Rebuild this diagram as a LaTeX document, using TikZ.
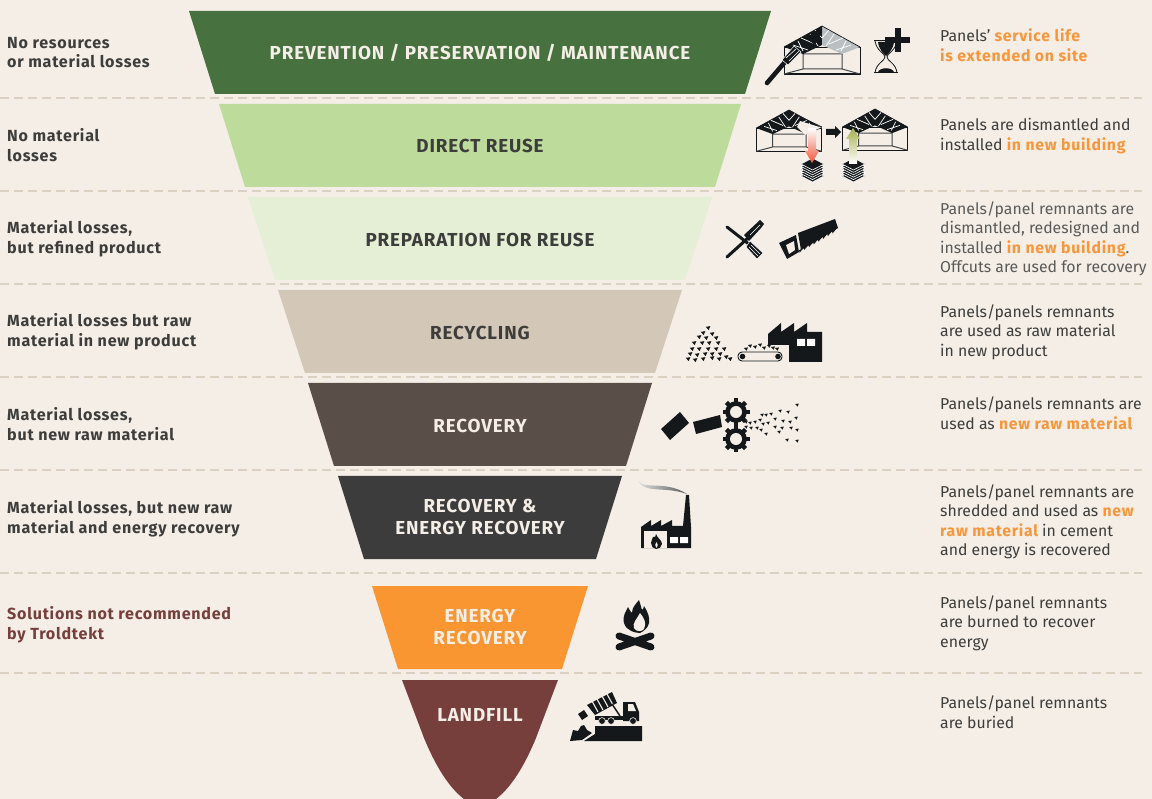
\documentclass[tikz,border=0pt]{standalone}
\usepackage{fontspec}
\setmainfont[BoldFeatures={LetterSpace=4.6}]{Fira Sans}
\definecolor{paper}{HTML}{F4EEE7}
\definecolor{dashline}{HTML}{DBD1C3}
\definecolor{inkdark}{HTML}{3D3D3B}
\definecolor{iconblack}{HTML}{14181A}
\definecolor{accent}{HTML}{F9963A}
\definecolor{wine}{HTML}{763F3C}
\definecolor{stepone}{HTML}{47713F}
\definecolor{steptwo}{HTML}{BDDC9C}
\definecolor{stepthree}{HTML}{E4EFD5}
\definecolor{stepfour}{HTML}{D3C7B8}
\definecolor{stepfive}{HTML}{5A4F48}
\definecolor{stepsix}{HTML}{3C3C3C}
\definecolor{stepseven}{HTML}{FA9632}
\definecolor{roofgrey}{HTML}{BAC0C2}
\definecolor{arrowred}{HTML}{F0553A}
\definecolor{arrowolive}{HTML}{A5B04F}
\usetikzlibrary{positioning}
\tikzset{
	divider/.style={dashline, line width=1.2pt, dash pattern=on 9pt off 5pt},
	steptext/.style={font=\fontsize{18.8}{22}\selectfont\bfseries, align=center, text=white, inner sep=0pt},
	lefttext/.style={font=\fontsize{16.1}{19.8}\selectfont\bfseries, align=left, anchor=west, text=inkdark, inner sep=0pt},
	righttext/.style={font=\fontsize{15.8}{19.5}\selectfont, align=left, anchor=west, text=inkdark, inner sep=0pt},
	chip/.style={fill=iconblack, draw=none}
}
\newcommand{\hl}[1]{\textcolor{accent}{\bfseries #1}}
\newcommand{\chips}[2]{\foreach \cx/\cy in {#1} \fill[chip] (\cx,\cy) ++(-#2,-#2*0.5) -- ++(2*#2,-0.3*#2) -- ++(-0.7*#2,1.7*#2) -- cycle;}
\newcommand{\roomicon}[5]{
	\begin{scope}[shift={(#1,#2)}, scale=#3]
		\draw[iconblack, line width=0.9pt, fill=paper] (-38,21) rectangle (38,48);
		\draw[iconblack, line width=1.2pt] (-38,48) -- (38,48);
		\draw[iconblack!80, line width=1pt] (-19,28) rectangle (20,43) (-38,48) -- (-19,43) (38,48) -- (20,43);
		\fill[#4] (0,0) -- (0,19) -- (-19,28) -- (-38,21) -- cycle;
		\fill[#5] (0,0) -- (0,19) -- (20,28) -- (38,21) -- cycle;
		\draw[iconblack, line width=0.7pt] (0,0) -- (38,21) (0,0) -- (-38,21);
		\draw[white, line width=0.7pt] (-29,19) -- (-14,24) (-21,12) -- (-7,18) (-12,8) -- (-4,20) (-24,15) -- (-19,25) (29,19) -- (14,24) (21,12) -- (7,18) (12,8) -- (4,20) (24,15) -- (19,25) (-7,4) -- (0,12) (7,4) -- (0,12);
	\end{scope}
}
\newcommand{\stackicon}[2]{
	\begin{scope}[shift={(#1,#2)}]
		\foreach \ly in {12,9.6,7.2,4.8,2.4,0}
			\fill[iconblack, draw=white, line width=0.6pt] (-11.5,\ly) -- (0,\ly-6) -- (11.5,\ly) -- (0,\ly+6) -- cycle;
	\end{scope}
}
\newcommand{\gearicon}[2]{
	\begin{scope}[shift={(#1,#2)}]
		\foreach \ang in {0,45,...,315}
			\draw[iconblack, line width=4.4pt] (\ang:8) -- (\ang:13.5);
		\fill[iconblack] (0,0) circle (10.8);
		\fill[paper] (0,0) circle (6);
	\end{scope}
}
\begin{document}
\begin{tikzpicture}[x=1pt, y=-1pt]
	\fill[paper] (0,0) rectangle (1152,799);
	\useasboundingbox (0,0) rectangle (1152,799);

	\foreach \ly in {98,191,284,377,470,573,673}
		\draw[divider] (0,\ly) -- (1142,\ly);

	\fill[stepone] (189,11) -- (771,11) -- (745,94) -- (215,94) -- cycle;
	\fill[steptwo] (219,104) -- (741,104) -- (715,187) -- (245,187) -- cycle;
	\fill[stepthree] (248,197) -- (712,197) -- (685,280) -- (275,280) -- cycle;
	\fill[stepfour] (278,290) -- (682,290) -- (655,373) -- (305,373) -- cycle;
	\fill[stepfive] (308,383) -- (652,383) -- (626,466) -- (334,466) -- cycle;
	\fill[stepsix] (338,476) -- (622,476) -- (596,559) -- (364,559) -- cycle;
	\fill[stepseven] (372,586) -- (588,586) -- (562,669) -- (398,669) -- cycle;
	\fill[wine] (402,680) -- (558,680) -- (536,738) .. controls (522,772) and (508,790) .. (496,799) -- (464,799) .. controls (452,790) and (438,772) .. (424,738) -- cycle;

	\node[steptext, text=paper] (prevention) at (480,53) {PREVENTION / PRESERVATION / MAINTENANCE};
	\node[steptext, text=inkdark] (reuse) at (480,145.5) {DIRECT REUSE};
	\node[steptext, text=inkdark] (preparation) at (480,239.5) {PREPARATION FOR REUSE};
	\node[steptext, text=inkdark] (recycling) at (480,332.5) {RECYCLING};
	\node[steptext, text=paper] (recovery) at (480,425.5) {RECOVERY};
	\node[steptext, text=paper] (energyrecovery) at (480,517) {RECOVERY \&\\ENERGY RECOVERY};
	\node[steptext, text=paper] (energy) at (480,627) {ENERGY\\RECOVERY};
	\node[steptext, text=paper] (landfill) at (480,715) {LANDFILL};

	\node[lefttext] (noresources) at (7,52.5) {No resources\\or material losses};
	\node[lefttext] (nomaterial) at (7,145) {No material\\losses};
	\node[lefttext] (refined) at (7,239) {Material losses,\\but refined product};
	\node[lefttext] (rawproduct) at (7,332) {Material losses but raw\\material in new product};
	\node[lefttext] (newraw) at (7,424) {Material losses,\\but new raw material};
	\node[lefttext] (rawenergy) at (7,518.5) {Material losses, but new raw\\material and energy recovery};
	\node[lefttext, text=wine] (notrecommended) at (7,624.5) {Solutions not recommended\\by Troldtekt};

	\node[righttext] (servicelife) at (940,45) {Panels' \hl{service life}\\\hl{is extended on site}};
	\node[righttext] (dismantled) at (940,136) {Panels are dismantled and\\installed \hl{in new building}};
	\node[righttext, text=inkdark!85] (redesigned) at (940,239) {Panels/panel remnants are\\dismantled, redesigned and\\installed \hl{in new building}.\\Offcuts are used for recovery};
	\node[righttext] (rawinproduct) at (940,332) {Panels/panels remnants\\are used as raw material\\in new product};
	\node[righttext] (usedraw) at (940,413.5) {Panels/panels remnants are\\used as \hl{new raw material}};
	\node[righttext] (shredded) at (940,522) {Panels/panel remnants are\\shredded and used as \hl{new}\\\hl{raw material} in cement\\and energy is recovered};
	\node[righttext] (burned) at (940,623) {Panels/panel remnants\\are burned to recover\\energy};
	\node[righttext] (buried) at (940,712) {Panels/panel remnants\\are buried};

	\roomicon{822}{26}{1}{iconblack}{roofgrey}
	\fill[iconblack] (822,26) -- (822,33) -- (815,45) -- (806,38) -- cycle;
	\draw[iconblack, line width=4.6pt, line cap=round] (767,83) -- (785,62);
	\fill[iconblack, draw=white, line width=0.5pt] (782,60) -- (794,46) -- (801,52) -- (788,65) -- cycle;
	\draw[white, line width=0.6pt] (786,58) -- (796,49) (789,61) -- (799,51);
	\draw[iconblack, line width=1pt] (874,41) -- (898,41) (874,73) -- (898,73);
	\draw[iconblack, line width=0.8pt] (875,41) .. controls (877,52) and (885,53) .. (885,57) .. controls (885,61) and (876,63) .. (875,73);
	\draw[iconblack, line width=0.8pt] (897,41) .. controls (895,52) and (887,53) .. (887,57) .. controls (887,61) and (896,63) .. (897,73);
	\fill[iconblack] (878,42) -- (894,42) .. controls (893,50) and (888,54) .. (886,56) .. controls (884,54) and (879,50) .. (878,42) -- cycle;
	\fill[iconblack] (878,72) .. controls (880,67) and (892,67) .. (894,72) -- cycle;
	\fill[iconblack] (894.5,28) rectangle +(6,24);
	\fill[iconblack] (885,37) rectangle +(25,6);

	\roomicon{789}{110}{0.86}{iconblack}{iconblack}
	\fill[paper] (800,121) -- (821,127.5) -- (805,135) -- (797,127) -- cycle;
	\draw[iconblack, line width=0.7pt] (803,118) -- (822,127);
	\roomicon{875}{109}{0.86}{iconblack}{iconblack}
	\fill[iconblack] (826,129) -- (835,129) -- (835,126) -- (841,132) -- (835,138) -- (835,135) -- (826,135) -- cycle;
	\stackicon{812.5}{164}
	\stackicon{853.5}{164}
	\shade[top color=white, middle color=arrowred!35, bottom color=arrowred] (808,128) -- (816,128) -- (816,151) -- (819,151) -- (812,163) -- (805,151) -- (808,151) -- cycle;
	\shade[top color=arrowolive, bottom color=white] (853,128) -- (860,139) -- (857,139) -- (857,164) -- (849,164) -- (849,139) -- (846,139) -- cycle;

	\draw[iconblack, line width=3pt, line cap=round] (727,227) -- (750,245);
	\fill[iconblack, draw=white, line width=0.5pt] (750,241) -- (763,253) -- (757,259) -- (746,247) -- cycle;
	\draw[white, line width=0.5pt] (751,245) -- (760,254) (749,247) -- (758,256);
	\draw[iconblack, line width=3pt, line cap=round] (727,257) -- (748,238);
	\fill[iconblack] (744,235) -- (760,220) -- (764,224) -- (761,228) -- (749,241) -- cycle;
	\draw[white, line width=0.7pt] (750,235) -- (760,225);
	\fill[iconblack] (798,233) -- (835,219) -- (838,228) -- (801,250) -- cycle;
	\foreach \t in {0,...,7}
		\fill[iconblack] (837-4.7*\t,228+2.75*\t) -- (832-4.7*\t,231+2.75*\t) -- (832.5-4.7*\t,233.5+2.75*\t) -- cycle;
	\fill[iconblack] (779,243) -- (796,235) -- (799,252) -- (787,259) -- cycle;
	\fill[paper] (786,245) -- (794,241) -- (795,250) -- (789,254) -- cycle;

	\chips{708/328,703/333,712/334,699/337,706/338,716/338,694/343,702/343,709/343,718/343,692/349,699/349,708/349,716/349,724/349,690/354,697/355,705/354,712/354,720/354,726/357,688/359,695/360,703/359,712/358,719/359,730/359}{2.3}
	\draw[iconblack, line width=0.9pt, rounded corners=4pt] (738,352) rectangle (782,361);
	\fill[iconblack] (742.5,356.5) circle (2.8) (778,356.5) circle (2.8);
	\chips{746/349,750/346,755/347,760/345,764/348,769/346,773/348,777/349}{2}
	\fill[iconblack] (768,345) -- (768,334) -- (781,323) -- (781,332) -- (794,323) -- (794,332) -- (807,323) -- (807,332) -- (822,332) -- (822,362) -- (789,362) -- (789,345) -- cycle;
	\fill[white] (797,339) rectangle (805,346) (807,339) rectangle (815,346);

	\fill[iconblack] (680,412) -- (689,423) -- (670,440) -- (661,429) -- cycle;
	\fill[iconblack] (693,422) -- (720,415) -- (722,427) -- (696,434) -- cycle;
	\gearicon{736}{412}
	\gearicon{736}{439}
	\chips{746/422,750/423,755/422,760/420,762/415,766/415,771/414,780/411,788/412,797/405,746/427,751/428,757/428,763/424,768/423,775/419,783/421,790/422,796/418,761/430,766/434,775/427,782/428,791/428,797/430,787/440,797/441,779/432}{1.8}

	\shade[left color=black!12, right color=black!65] (638,481) .. controls (645,490) and (665,480) .. (687,494) .. controls (665,486) and (645,494) .. (638,481) -- cycle;
	\fill[iconblack] (686,495) -- (689,495) -- (691,527) -- (691,548) -- (641,548) -- (641,527) -- (651,520) -- (651,526) -- (661,520) -- (661,526) -- (672,520) -- (672,526) -- (683,526) -- cycle;
	\fill[paper] (644,531) rectangle (667,548);
	\fill[white] (670,537) rectangle (678,543) (680,537) rectangle (688,543);
	\fill[iconblack] (656,534) .. controls (657,538) and (662,540) .. (662,544) .. controls (662,547) and (659,549) .. (656,549) .. controls (653,549) and (651,546) .. (651,543) .. controls (651,540) and (653,539) .. (653,537) .. controls (655,538) and (656,536) .. (656,534) -- cycle;
	\fill[paper] (656.5,542) .. controls (658,544) and (658.5,546) .. (656.5,548) .. controls (654.5,546) and (655,544) .. (656.5,542) -- cycle;

	\fill[iconblack] (639,600) .. controls (641,606) and (641,607) .. (642,610) .. controls (643,609) and (644,608) .. (644,606) .. controls (648,612) and (650,618) .. (649,623) .. controls (648,628) and (644,631) .. (640,633) .. controls (636,633) and (626,631) .. (624,623) .. controls (622,616) and (626,612) .. (628,607) .. controls (630,611) and (631,612) .. (632,613) .. controls (632,607) and (636,604) .. (639,600) -- cycle;
	\fill[paper] (640,613) .. controls (644,618) and (647,623) .. (644,629) .. controls (642,632) and (636,632) .. (634,628) .. controls (632,623) and (637,619) .. (640,613) -- cycle;
	\draw[iconblack, line width=7pt, line cap=round] (619,636) -- (651,647) (619,647) -- (651,636);

	\fill[iconblack] (584,741) -- (595,734) -- (595,726) -- (642,726) -- (642,741) -- cycle;
	\fill[iconblack] (570,741) -- (573,730) -- (578,731) -- (581,726) -- (584,725) -- (587,730) -- (592,733) -- (582,740) -- cycle;
	\fill[iconblack] (578,714) -- (584,710) -- (588,716) -- (582,720) -- cycle;
	\fill[iconblack] (587,705) -- (612,692) -- (617,703) -- (595,715) -- cycle;
	\draw[paper, line width=1.1pt] (592,701) -- (598,712) (597,699) -- (603,710) (602,696) -- (608,707) (607,694) -- (613,705);
	\draw[iconblack, line width=1.5pt] (612,704) -- (620,716);
	\fill[iconblack] (595,716) rectangle (624,720);
	\fill[iconblack] (623,702) -- (635,702) -- (639,712) -- (639,721) -- (623,721) -- cycle;
	\fill[paper] (628,704) -- (633,704) -- (636,711) -- (628,711) -- cycle;
	\fill[iconblack, draw=paper, line width=0.6pt] (602,721) circle (3.4) (611,721) circle (3.4) (633,721) circle (3.4);
\end{tikzpicture}
\end{document}
